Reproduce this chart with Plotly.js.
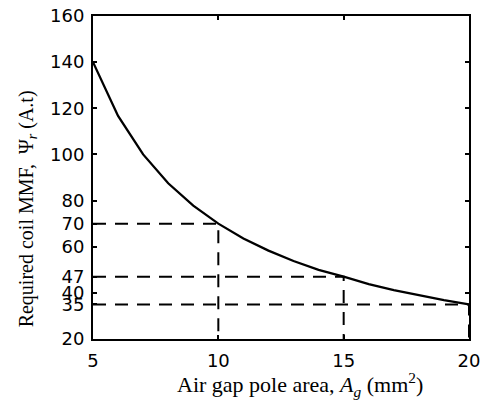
<!DOCTYPE html>
<html>
<head>
<meta charset="utf-8">
<script src="https://cdn.plot.ly/plotly-3.0.1.min.js"></script>
<style>
  html, body { margin: 0; padding: 0; background: #fff; }
  #chart { width: 489px; height: 403px; }
</style>
</head>
<body>
<div id="chart"></div>
<script>
// Air gap pole area (mm^2) and the coil MMF it requires (A.t)
const poleArea = [5, 6, 7, 8, 9, 10, 11, 12, 13, 14, 15, 16, 17, 18, 19, 20];
const coilMMF  = [140, 116.7, 100, 87.5, 77.8, 70, 63.6, 58.3, 53.8, 50, 47, 43.8, 41.2, 38.9, 36.8, 35];

// Marked operating points, read down to the x axis and across to the y axis
const markArea = [10, 15, 20];
const markMMF  = [70, 47, 35];

// Tick values
const xTicks = [5, 10, 15, 20];
const yTicks = [20, 35, 40, 47, 60, 70, 80, 100, 120, 140, 160];
const xTicksTop = [10, 15];
const yTicksRight = [40, 60, 80, 100, 120, 140];

const xRange = [5, 20];
const yRange = [20, 160];

const tickFont = { family: 'DejaVu Sans, Arial, sans-serif', size: 18, color: '#000' };
const titleFont = { family: 'Liberation Serif, Times New Roman, serif', size: 20, color: '#000' };

const traces = [];

// Guide lines for each marked point
markArea.forEach((a, i) => {
  traces.push({
    x: [xRange[0], a, a],
    y: [markMMF[i], markMMF[i], yRange[0]],
    mode: 'lines',
    line: { color: '#000', width: 2, dash: '13px,9px' },
    hoverinfo: 'skip',
    showlegend: false
  });
});

// Main curve
traces.push({
  x: poleArea,
  y: coilMMF,
  mode: 'lines',
  line: { color: '#000', width: 2.3 },
  showlegend: false
});

const layout = {
  width: 489,
  height: 403,
  margin: { l: 93, r: 20, t: 16, b: 64 },
  paper_bgcolor: '#fff',
  plot_bgcolor: '#fff',
  showlegend: false,
  xaxis: {
    range: xRange,
    tickvals: xTicks,
    ticktext: xTicks.map(String),
    ticks: 'inside',
    ticklen: 4,
    tickwidth: 2,
    tickcolor: '#000',
    showgrid: false,
    zeroline: false,
    showline: true,
    linecolor: '#000',
    linewidth: 2,
    mirror: true,
    tickfont: tickFont,
    ticklabelstandoff: 4
  },
  yaxis: {
    range: yRange,
    tickvals: yTicks,
    ticktext: yTicks.map(String),
    ticks: 'inside',
    ticklen: 4,
    tickwidth: 2,
    tickcolor: '#000',
    showgrid: false,
    zeroline: false,
    showline: true,
    linecolor: '#000',
    linewidth: 2,
    mirror: true,
    tickfont: tickFont,
    ticklabelstandoff: 3
  },
  // Tick marks on the top and right frame edges
  xaxis2: {
    overlaying: 'x',
    side: 'top',
    range: xRange,
    tickvals: xTicksTop,
    showticklabels: false,
    ticks: 'inside',
    ticklen: 4,
    tickwidth: 2,
    tickcolor: '#000',
    showgrid: false,
    zeroline: false,
    showline: false
  },
  yaxis2: {
    overlaying: 'y',
    side: 'right',
    range: yRange,
    tickvals: yTicksRight,
    showticklabels: false,
    ticks: 'inside',
    ticklen: 4,
    tickwidth: 2,
    tickcolor: '#000',
    showgrid: false,
    zeroline: false,
    showline: false
  },
  annotations: [
    {
      text: 'Air gap pole area, <i>A</i><sub><i>g</i></sub> (mm<sup>2</sup>)',
      xref: 'paper', yref: 'paper',
      x: 0.55, y: -0.14,
      xanchor: 'center', yanchor: 'middle',
      showarrow: false,
      font: { family: titleFont.family, size: 22, color: '#000' }
    },
    {
      text: 'Required coil MMF,  Ψ<sub><i>r</i></sub> (A.t)',
      xref: 'paper', yref: 'paper',
      x: -0.175, y: 0.402,
      xanchor: 'center', yanchor: 'middle',
      textangle: -90,
      showarrow: false,
      font: titleFont
    }
  ]
};

// Invisible trace so the secondary axes are drawn
traces.push({
  x: [xRange[0]], y: [yRange[0]],
  xaxis: 'x2', yaxis: 'y2',
  mode: 'markers',
  marker: { opacity: 0 },
  hoverinfo: 'skip',
  showlegend: false
});

Plotly.newPlot('chart', traces, layout, { displayModeBar: false, staticPlot: true });
</script>
</body>
</html>
